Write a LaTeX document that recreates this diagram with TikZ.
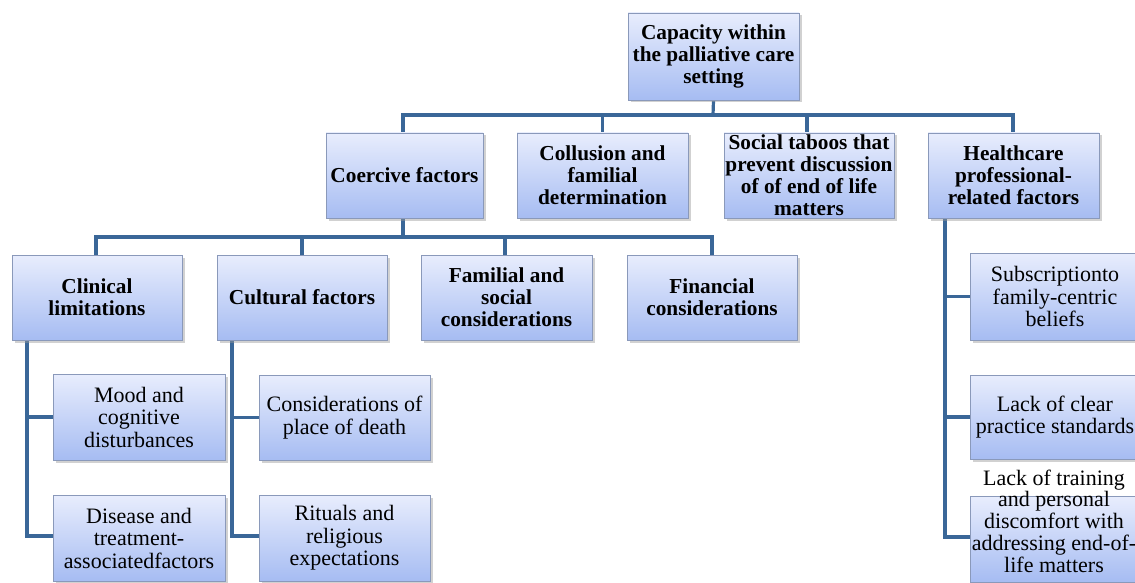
\documentclass[tikz,border=0pt]{standalone}
\usepackage{fontspec}
\setmainfont{Liberation Serif}
\usetikzlibrary{shadows,backgrounds}
\definecolor{linecol}{HTML}{3A6798}
\definecolor{boxtop}{HTML}{E8EDFD}
\definecolor{boxbot}{HTML}{A6BCF2}
\definecolor{boxborder}{HTML}{8A99BA}
\tikzset{
  box/.style={draw=boxborder, line width=0.8pt, top color=boxtop, bottom color=boxbot,
    drop shadow={shadow xshift=2.5pt, shadow yshift=-2.5pt, fill=black!40, opacity=0.45},
    align=center, inner sep=1pt, font=\fontsize{22}{22.5}\selectfont},
  upper/.style={box, font=\fontsize{21.3}{22}\selectfont\bfseries},
  wh/.style 2 args={minimum width=#1pt, minimum height=#2pt},
  conn/.style={draw=linecol, line width=3.2pt, line cap=rect},
  plaintext/.style={align=center, inner sep=0pt, font=\fontsize{22}{21.7}\selectfont},
}
\begin{document}
\begin{tikzpicture}[x=1pt, y=-1pt]
\useasboundingbox (0,0) rectangle (1135,583);
% level 0
\node[upper, wh={171}{87}] (top) at (713.5,56.5) {Capacity within\\the palliative care\\setting};
% level 1
\node[upper, wh={157}{85}] (coercive) at (404.5,175.5) {Coercive factors};
\node[upper, wh={171}{85}] (collusion) at (602.5,175.5) {Collusion and\\familial\\determination};
\node[upper, wh={170}{85}] (taboos) at (809,175.5) {Social taboos that\\prevent discussion\\of of end of life\\matters};
\node[upper, wh={171}{85}] (health) at (1013.5,175.5) {Healthcare\\professional-\\related factors};
% level 2
\node[upper, wh={170}{85}] (clinical) at (97,297.5) {Clinical\\limitations};
\node[upper, wh={170}{85}] (cultural) at (302,297.5) {Cultural factors};
\node[upper, wh={171}{85}] (familial) at (506.5,297.5) {Familial and\\social\\considerations};
\node[upper, wh={170}{85}] (financial) at (712,297.5) {Financial\\considerations};
% leaves
\node[box, wh={172}{86}] (mood) at (139,417) {Mood and\\cognitive\\disturbances};
\node[box, wh={172}{86}] (disease) at (139,538) {Disease and\\treatment-\\associatedfactors};
\node[box, wh={171}{85}] (place) at (344.5,417.5) {Considerations of\\place of death};
\node[box, wh={171}{86}] (rituals) at (344.5,538) {Rituals and\\religious\\expectations};
\node[box, wh={170}{87}] (subscr) at (1055,296.5) {Subscriptionto\\family-centric\\beliefs};
\node[box, wh={170}{84}] (clear) at (1055,417) {Lack of clear\\practice standards};
\node[box, wh={170}{86}] (training) at (1055,539) {};
\node[plaintext] (trainingtext) at (1054,521) {Lack of training\\and personal\\discomfort with\\addressing end-of-\\life matters};
% connectors
\begin{scope}[on background layer]
\fill[white] (0,0) rectangle (1135,583);
\coordinate (bus1) at (713,115);
\coordinate (bus2) at (403,237);
\draw[conn] (top.south) -- (bus1);
\draw[conn] (coercive.north -| 403,0) |- (bus1);
\draw[conn] (collusion.north) |- (bus1);
\draw[conn] (taboos.north -| 807,0) |- (bus1);
\draw[conn] (health.north -| 1013,0) |- (bus1);
\draw[conn] (coercive.south -| 403,0) -- (bus2);
\draw[conn] (clinical.north -| 96,0) |- (bus2);
\draw[conn] (cultural.north) |- (bus2);
\draw[conn] (familial.north -| 505,0) |- (bus2);
\draw[conn] (financial.north) |- (bus2);
\draw[conn] (mood.west) -| (clinical.south west -| 27,0);
\draw[conn] (disease.west |- 0,536) -| (clinical.south west -| 27,0);
\draw[conn] (place.west) -| (cultural.south west -| 232,0);
\draw[conn] (rituals.west |- 0,536) -| (cultural.south west -| 232,0);
\draw[conn] (subscr.west) -| (health.south west -| 945,0);
\draw[conn] (clear.west) -| (health.south west -| 945,0);
\draw[conn] (training.west |- 0,537) -| (health.south west -| 945,0);
\end{scope}
\end{tikzpicture}
\end{document}
